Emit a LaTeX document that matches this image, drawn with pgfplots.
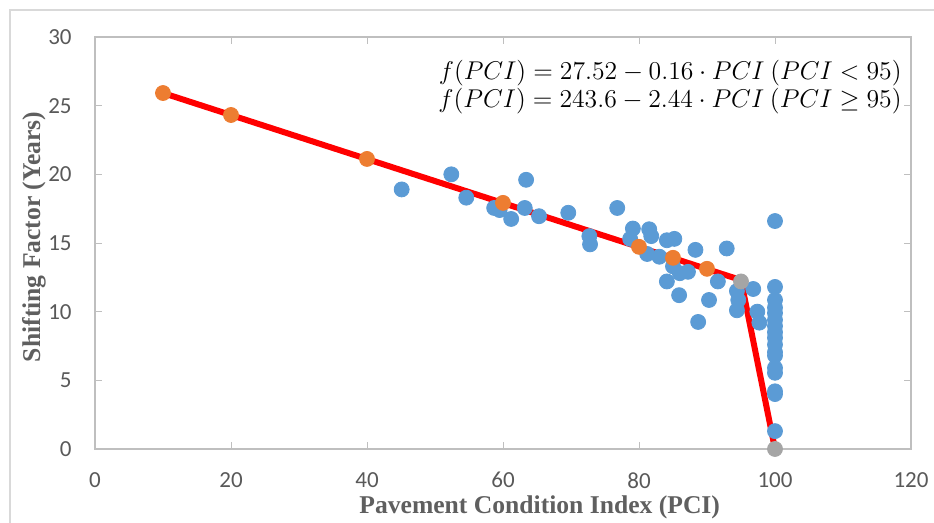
\documentclass[border=0pt]{standalone}
\usepackage{pgfplots}
\pgfplotsset{compat=1.18}
\usepackage{fontspec}
\setmainfont{Carlito}
\newfontfamily\labelfont{Liberation Serif}
\definecolor{sblue}{HTML}{5B9BD5}
\definecolor{sorange}{HTML}{ED7D31}
\definecolor{sgray}{HTML}{A5A5A5}
\definecolor{axgray}{HTML}{BFBFBF}
\definecolor{txtgray}{HTML}{595959}
\definecolor{lblgray}{HTML}{5F5F5F}
\begin{document}
\begin{tikzpicture}
\path[use as bounding box] (0,0) rectangle (467pt,261.5pt);
\draw[color=black!15, line width=0.6pt] (5pt,0) -- (5pt,256.5pt) -- (467pt,256.5pt);
\begin{axis}[
  at={(47.5pt,37pt)}, anchor=south west,
  width=408pt, height=206pt, scale only axis,
  xmin=0, xmax=120, ymin=0, ymax=30,
  xtick={0,20,...,120}, ytick={0,5,...,30},
  tick align=inside, major tick length=3.5pt,
  axis line style={axgray, line width=0.8pt},
  tick style={axgray, line width=0.8pt},
  every tick/.style={axgray},
  clip=false,
  /pgf/number format/assume math mode=true,
  ticklabel style={font=\fontsize{11.5}{13}\selectfont, text=txtgray},
  yticklabel style={anchor=east, inner sep=0pt, xshift=-11.5pt},
  xticklabel style={anchor=north, inner sep=0pt, yshift=-11.5pt},
  xlabel={Pavement Condition Index (PCI)},
  ylabel={Shifting Factor (Years)},
  label style={font=\labelfont\bfseries\fontsize{12.8}{14}\selectfont, text=lblgray},
  xlabel style={at={(axis description cs:0.545,-0.156)}, anchor=base},
  ylabel style={at={(axis description cs:-0.0674,0.5146)}, anchor=base, rotate=0},
]
\addplot[only marks, mark=*, mark size=3.75pt, color=sblue, mark options={fill=sblue, draw=sblue}] coordinates {
(45.1,18.9) (52.4,20.0) (54.6,18.3) (58.7,17.55) (59.5,17.4) (61.2,16.75)
(63.4,19.6) (63.2,17.55) (65.3,16.95) (69.6,17.2) (72.7,15.5) (72.8,14.9)
(76.8,17.55) (79.1,16.05) (78.7,15.3) (81.5,16.0) (81.8,15.5) (81.2,14.2)
(83.0,14.0) (84.1,15.2) (85.2,15.3) (85.0,13.3) (86.0,12.8) (87.2,12.9)
(88.3,14.5) (92.9,14.6) (84.1,12.2) (85.9,11.2) (90.3,10.85) (88.7,9.25)
(91.6,12.2) (96.8,11.65) (94.6,10.85) (94.4,10.1) (94.4,11.5) (97.4,10.0)
(97.7,9.2)
(100,16.6) (100,11.8) (100,10.85) (100,10.3) (100,9.9) (100,9.4) (100,8.95)
(100,8.5) (100,8.1) (100,7.6) (100,7.05) (100,6.8) (100,5.9) (100,5.55)
(100,4.2) (100,4.0) (100,1.3)
};
\addplot[only marks, mark=*, mark size=3.75pt, color=sorange, mark options={fill=sorange, draw=sorange}] coordinates {
(10,25.92) (20,24.32) (40,21.12) (60,17.92) (80,14.72) (85,13.92) (90,13.12)
};
\addplot[only marks, mark=*, mark size=3.75pt, color=sgray, mark options={fill=sgray, draw=sgray}] coordinates {
(95,12.2) (100,0)
};
\addplot[red, line width=3pt, mark=none] coordinates {
(10,25.92) (95,12.3) (100,0)
};
\end{axis}
\node[anchor=base east, inner sep=0pt, scale=1.07, transform shape] at (451pt,221.5pt) {\fontsize{12}{14}\selectfont$f(PCI) = 27.52 - 0.16\cdot PCI\ (PCI < 95)$};
\node[anchor=base east, inner sep=0pt, scale=1.07, transform shape] at (451pt,207.5pt) {\fontsize{12}{14}\selectfont$f(PCI) = 243.6 - 2.44\cdot PCI\ (PCI \geq 95)$};
\end{tikzpicture}
\end{document}
